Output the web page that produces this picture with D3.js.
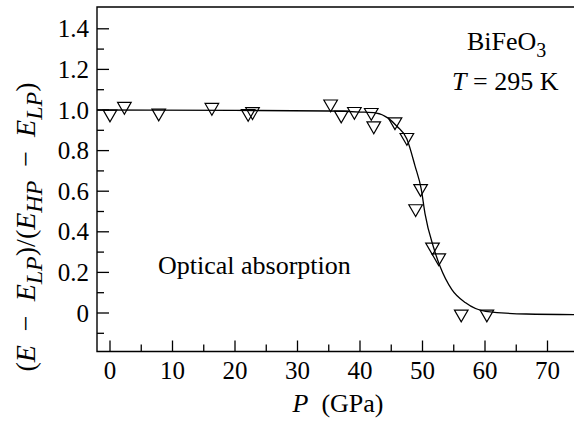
<!DOCTYPE html>
<html>
<head>
<meta charset="utf-8">
<script src="https://cdn.jsdelivr.net/npm/d3@7"></script>
<style>
  body { margin: 0; background: #fff; }
</style>
</head>
<body>
<svg width="574" height="422"></svg>
<script>
// measured points (pressure in GPa, normalised energy)
var pressure = [0, 2.3, 7.8, 16.3, 22.1, 22.8, 35.3, 37.0, 39.1, 41.8, 42.2, 45.6, 47.5, 49.7, 48.9, 51.6, 52.6, 56.2, 60.3];
var normE    = [0.98, 1.018, 0.985, 1.013, 0.983, 0.992, 1.03, 0.975, 0.993, 0.988, 0.922, 0.942, 0.865, 0.613, 0.514, 0.325, 0.272, -0.005, -0.005];

// fitted curve
var fitP = [-3, 20, 35, 40, 42.6, 44.5, 45.9, 47.5, 48.8, 49.8, 50.4, 51.8, 52.8, 54.7, 56.9, 60.1, 66.6, 76];
var fitE = [1.0, 0.998, 0.995, 0.99, 0.985, 0.96, 0.92, 0.857, 0.725, 0.61, 0.49, 0.32, 0.23, 0.115, 0.05, 0.008, -0.005, -0.008];

var xTicks = [0, 10, 20, 30, 40, 50, 60, 70];
var xMinor = [5, 15, 25, 35, 45, 55, 65];
var yTicks = [0, 0.2, 0.4, 0.6, 0.8, 1.0, 1.2, 1.4];
var yMinor = [-0.1, 0.1, 0.3, 0.5, 0.7, 0.9, 1.1, 1.3];

var serif = "'Liberation Serif', 'Times New Roman', Times, serif";
var svg = d3.select('svg').attr('font-family', serif);
var pL = 97, pT = 7, pB = 351.5, pR = 580;

var x = d3.scaleLinear().domain([0, 70]).range([110, 547.5]);
var y = d3.scaleLinear().domain([0, 1]).range([313, 110]);

// frame, right edge runs off the picture
svg.append('path')
  .attr('d', 'M' + pR + ',' + pT + 'H' + pL + 'V' + pB + 'H' + pR)
  .attr('fill', 'none').attr('stroke', '#000').attr('stroke-width', 1.4);

// ticks point inwards
var g = svg.append('g').attr('stroke', '#000').attr('stroke-width', 1.3);
g.selectAll('.xt').data(xTicks).enter().append('line')
  .attr('x1', function(d){ return x(d); }).attr('x2', function(d){ return x(d); })
  .attr('y1', pB).attr('y2', pB - 11);
g.selectAll('.xm').data(xMinor).enter().append('line')
  .attr('x1', function(d){ return x(d); }).attr('x2', function(d){ return x(d); })
  .attr('y1', pB).attr('y2', pB - 7);
g.selectAll('.yt').data(yTicks).enter().append('line')
  .attr('y1', function(d){ return y(d); }).attr('y2', function(d){ return y(d); })
  .attr('x1', pL).attr('x2', pL + 12);
g.selectAll('.ym').data(yMinor).enter().append('line')
  .attr('y1', function(d){ return y(d); }).attr('y2', function(d){ return y(d); })
  .attr('x1', pL).attr('x2', pL + 7);

svg.selectAll('.xl').data(xTicks).enter().append('text')
  .attr('x', function(d){ return x(d); }).attr('y', 379)
  .attr('text-anchor', 'middle').attr('font-size', 25)
  .text(function(d){ return d; });
svg.selectAll('.yl').data(yTicks).enter().append('text')
  .attr('x', 89).attr('y', function(d){ return y(d) + 8.5; })
  .attr('text-anchor', 'end').attr('font-size', 25)
  .text(function(d){ return d === 0 ? '0' : d.toFixed(1); });

// fit line
var line = d3.line()
  .x(function(d){ return x(d[0]); })
  .y(function(d){ return y(d[1]); })
  .curve(d3.curveMonotoneX);
svg.append('defs').append('clipPath').attr('id', 'clip')
  .append('rect').attr('x', pL).attr('y', pT).attr('width', pR - pL).attr('height', pB - pT);
svg.append('path')
  .datum(d3.zip(fitP, fitE))
  .attr('clip-path', 'url(#clip)')
  .attr('d', line)
  .attr('fill', 'none').attr('stroke', '#000').attr('stroke-width', 1.3);

// open down triangles
var tri = d3.symbol().type(d3.symbolTriangle).size(80);
svg.selectAll('.pt').data(d3.zip(pressure, normE)).enter().append('path')
  .attr('d', tri)
  .attr('transform', function(d){ return 'translate(' + x(d[0]) + ',' + y(d[1]) + ') rotate(180)'; })
  .attr('fill', 'none').attr('stroke', '#000').attr('stroke-width', 1.2);

// annotations
var t1 = svg.append('text').attr('x', 467).attr('y', 50).attr('font-size', 26);
t1.append('tspan').text('BiFeO');
t1.append('tspan').attr('font-size', 20).attr('dy', 7).text('3');
var t2 = svg.append('text').attr('x', 452).attr('y', 90).attr('font-size', 26);
t2.append('tspan').attr('font-style', 'italic').text('T');
t2.append('tspan').text(' = 295 K');

svg.append('text').attr('x', 158).attr('y', 274).attr('font-size', 26).text('Optical absorption');

var xl = svg.append('text').attr('x', 338).attr('y', 412).attr('text-anchor', 'middle').attr('font-size', 26);
xl.append('tspan').attr('font-style', 'italic').text('P');
xl.append('tspan').text('\u2002(GPa)');

// y label: (E − E_LP)/(E_HP − E_LP)
var yl = svg.append('text')
  .attr('transform', 'translate(35,227) rotate(-90)')
  .attr('text-anchor', 'middle').attr('font-size', 28);
var parts = [
  ['(', 0, false], ['E', 0, true], ['\u2002\u2212\u2002', 0, false], ['E', 0, true], ['LP', 1, true],
  [')/(', 0, false], ['E', 0, true], ['HP', 1, true], ['\u2002\u2212\u2002', 0, false], ['E', 0, true], ['LP', 1, true], [')', 0, false]
];
var down = false;
parts.forEach(function(p) {
  var ts = yl.append('tspan').text(p[0]);
  if (p[2]) ts.attr('font-style', 'italic');
  if (p[1]) {
    ts.attr('font-size', 24);
    if (!down) { ts.attr('dy', 7); down = true; }
  } else if (down) {
    ts.attr('dy', -7); down = false;
  }
});
</script>
</body>
</html>
